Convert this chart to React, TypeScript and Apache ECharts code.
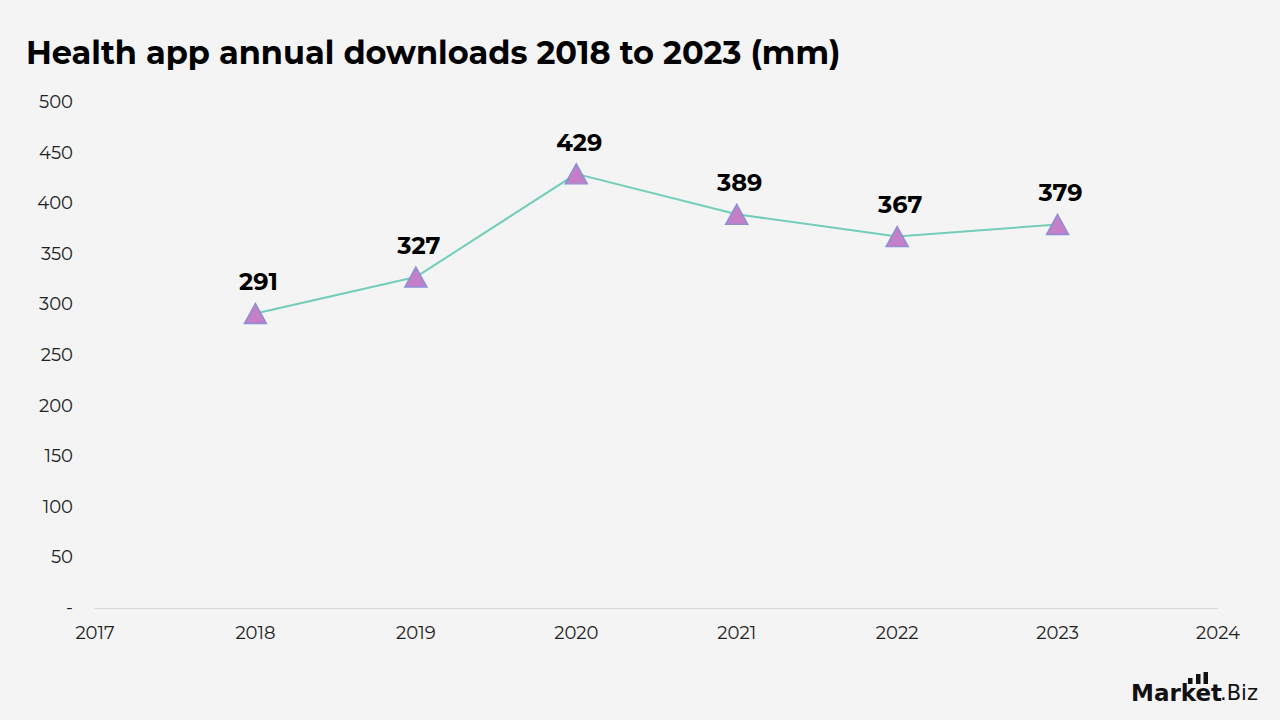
import React, { useEffect, useRef } from "react";
import * as echarts from "echarts";

const years = [2018, 2019, 2020, 2021, 2022, 2023];
const downloads = [291, 327, 429, 389, 367, 379];
const xTickMin = 2017;
const xTickMax = 2024;

const FONT = "Montserrat, 'Open Sans', 'Noto Sans', sans-serif";

export default function App() {
  const ref = useRef<HTMLDivElement>(null);
  useEffect(() => {
    if (!ref.current) return;
    const chart = echarts.init(ref.current, undefined, { renderer: "svg" });
    chart.setOption({
      animation: false,
      backgroundColor: "#f4f4f4",
      textStyle: { fontFamily: FONT },
      title: {
        text: "Health app annual downloads 2018 to 2023 (mm)",
        left: 21,
        top: 31,
        textStyle: { fontSize: 32, fontWeight: "bold", color: "#000", fontFamily: FONT },
      },
      grid: { left: 95, right: 62, top: 102, bottom: 112 },
      xAxis: {
        type: "value",
        min: xTickMin,
        max: xTickMax,
        interval: 1,
        axisLine: { show: true, lineStyle: { color: "#d9d9d9", width: 1 } },
        axisTick: { show: false },
        splitLine: { show: false },
        axisLabel: { color: "#222", fontSize: 18, margin: 16, fontFamily: FONT, formatter: (v: number) => String(v) },
      },
      yAxis: {
        type: "value",
        min: 0,
        max: 500,
        interval: 50,
        axisLine: { show: false },
        axisTick: { show: false },
        splitLine: { show: false },
        axisLabel: {
          color: "#222",
          fontSize: 18,
          margin: 22,
          fontFamily: FONT,
          formatter: (v: number) => (v === 0 ? "-" : String(v)),
        },
      },
      series: [
        {
          type: "line",
          data: years.map((y, i) => [y, downloads[i]]),
          symbol: "triangle",
          symbolSize: [22, 20],
          lineStyle: { color: "#72cdb9", width: 2 },
          itemStyle: { color: "#c47fc6", borderColor: "#8c8fd6", borderWidth: 1.5 },
          label: {
            show: true,
            position: "top",
            distance: 8,
            offset: [3, -1],
            fontSize: 24,
            fontWeight: "bold",
            color: "#000",
            fontFamily: FONT,
          },
        },
      ],
      graphic: [
        { type: "rect", shape: { x: 1188, y: 678, width: 4.5, height: 6 }, style: { fill: "#111" } },
        { type: "rect", shape: { x: 1196, y: 674, width: 4.5, height: 10 }, style: { fill: "#111" } },
        { type: "rect", shape: { x: 1203.5, y: 672, width: 4.5, height: 12 }, style: { fill: "#111" } },
        {
          type: "text",
          style: {
            x: 1131,
            y: 693,
            text: "Market",
            verticalAlign: "middle",
            font: "bold 23px 'DejaVu Sans', sans-serif",
            fill: "#111",
          },
        },
        {
          type: "text",
          style: {
            x: 1220,
            y: 693,
            text: ".Biz",
            verticalAlign: "middle",
            font: "21px 'DejaVu Sans', sans-serif",
            fill: "#111",
          },
        },
      ],
    });
    return () => chart.dispose();
  }, []);
  return <div ref={ref} style={{ width: 1280, height: 720, position: "absolute", left: 0, top: 0 }} />;
}
